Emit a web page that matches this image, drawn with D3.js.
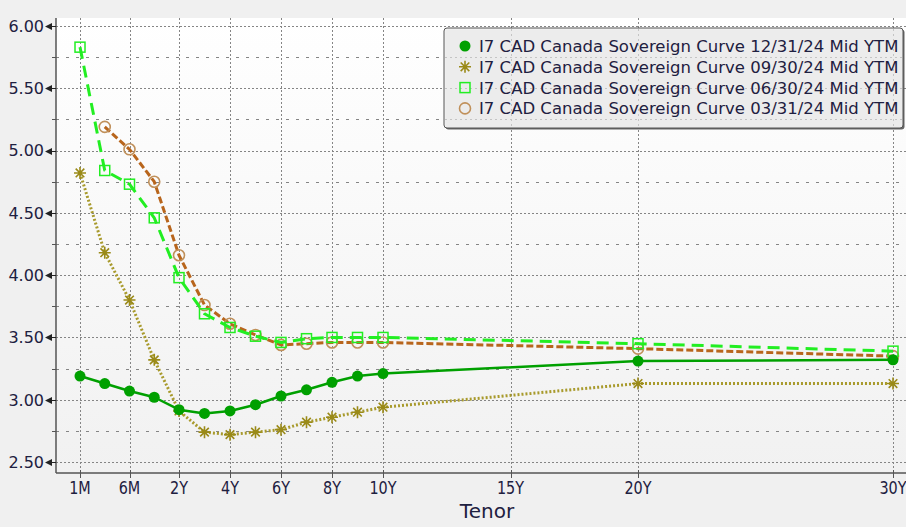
<!DOCTYPE html>
<html>
<head>
<meta charset="utf-8">
<script src="https://cdn.jsdelivr.net/npm/d3@7"></script>
<style>
  html, body { margin: 0; padding: 0; background: #f0f0f0; }
  svg { display: block; }
  text { font-family: "DejaVu Sans", sans-serif; fill: #1e2040; }
</style>
</head>
<body>
<div id="chart"></div>
<script>
let width = 906;
let height = 527;

// Tenors of the curve points, and where they sit in years
let tenors = ["1M", "3M", "6M", "1Y", "2Y", "3Y", "4Y", "5Y", "6Y", "7Y", "8Y", "9Y", "10Y", "20Y", "30Y"];
let tenorYears = [1/12, 0.25, 0.5, 1, 2, 3, 4, 5, 6, 7, 8, 9, 10, 20, 30];

// Axis tick labels
let xTickLabels = ["1M", "6M", "2Y", "4Y", "6Y", "8Y", "10Y", "15Y", "20Y", "30Y"];
let xTickYears = [1/12, 0.5, 2, 4, 6, 8, 10, 15, 20, 30];
let yMajorTicks = [2.5, 3.0, 3.5, 4.0, 4.5, 5.0, 5.5, 6.0];
let yMinorTicks = [2.75, 3.25, 3.75, 4.25, 4.75, 5.25, 5.75];

// Yields (Mid YTM)
let ytm123124 = [3.19, 3.13, 3.07, 3.02, 2.92, 2.89, 2.91, 2.96, 3.03, 3.08, 3.14, 3.19, 3.21, 3.31, 3.32];
let ytm093024 = [4.82, 4.18, 3.80, 3.32, 2.91, 2.74, 2.72, 2.74, 2.76, 2.82, 2.86, 2.90, 2.94, 3.13, 3.13];
let ytm063024 = [5.83, 4.84, 4.73, 4.46, 3.98, 3.69, 3.58, 3.51, 3.46, 3.49, 3.50, 3.50, 3.50, 3.45, 3.39];
let ytm033124 = [null, 5.19, 5.01, 4.75, 4.16, 3.76, 3.61, 3.52, 3.44, 3.45, 3.46, 3.46, 3.46, 3.41, 3.35];

let seriesNames = [
    "I7 CAD Canada Sovereign Curve 12/31/24 Mid YTM",
    "I7 CAD Canada Sovereign Curve 09/30/24 Mid YTM",
    "I7 CAD Canada Sovereign Curve 06/30/24 Mid YTM",
    "I7 CAD Canada Sovereign Curve 03/31/24 Mid YTM"
];

let series = [
    {name: seriesNames[0], values: ytm123124, line: "#00a000", dash: null, lw: 2.5, marker: "dot", mcolor: "#00a000"},
    {name: seriesNames[1], values: ytm093024, line: "#a89a2c", dash: "2,2", lw: 3, marker: "star", mcolor: "#9a8a18"},
    {name: seriesNames[2], values: ytm063024, line: "#22ee22", dash: "12,7", lw: 3, marker: "square", mcolor: "#22ee22"},
    {name: seriesNames[3], values: ytm033124, line: "#b8651c", dash: "7,3", lw: 3, marker: "ring", mcolor: "#c0905a"}
];

let plot = {left: 56, right: 906, top: 18, bottom: 473};

// Short end gets equal slots, 2Y and longer is linear in years
let xScale = d3.scaleLinear()
    .domain([1/12, 0.25, 0.5, 1, 2, 30])
    .range([80, 104.75, 129.5, 154.25, 179, 893]);

let yScale = d3.scaleLinear()
    .domain([2.412, 6.064])
    .range([plot.bottom, plot.top]);

let svg = d3.select("#chart")
    .append("svg")
    .attr("width", width)
    .attr("height", height);

let defs = svg.append("defs");
let grad = defs.append("linearGradient")
    .attr("id", "bg")
    .attr("x1", 0).attr("y1", 0).attr("x2", 0).attr("y2", 1);
grad.append("stop").attr("offset", "0%").attr("stop-color", "#ffffff");
grad.append("stop").attr("offset", "100%").attr("stop-color", "#f1f1f1");

svg.append("rect")
    .attr("x", plot.left)
    .attr("y", plot.top)
    .attr("width", plot.right - plot.left)
    .attr("height", plot.bottom - plot.top)
    .attr("fill", "url(#bg)");

// Grid
let grid = svg.append("g").attr("stroke", "#858585").attr("stroke-width", 1);

grid.selectAll(".hmajor")
    .data(yMajorTicks)
    .enter().append("line")
    .attr("x1", plot.left).attr("x2", plot.right)
    .attr("y1", d => Math.round(yScale(d)) + 0.5)
    .attr("y2", d => Math.round(yScale(d)) + 0.5)
    .attr("stroke-dasharray", "2,2");

grid.selectAll(".hminor")
    .data(yMinorTicks)
    .enter().append("line")
    .attr("x1", plot.left).attr("x2", plot.right)
    .attr("y1", d => Math.round(yScale(d)) + 0.5)
    .attr("y2", d => Math.round(yScale(d)) + 0.5)
    .attr("stroke-dasharray", "3,7");

grid.selectAll(".vline")
    .data(xTickYears)
    .enter().append("line")
    .attr("y1", plot.top).attr("y2", plot.bottom)
    .attr("x1", d => Math.round(xScale(d)) + 0.5)
    .attr("x2", d => Math.round(xScale(d)) + 0.5)
    .attr("stroke-dasharray", "2,2");

// Axes
let axisColor = "#555555";

svg.append("line")
    .attr("x1", plot.left).attr("x2", plot.left)
    .attr("y1", plot.top).attr("y2", plot.bottom)
    .attr("stroke", axisColor).attr("stroke-width", 1.5);

svg.append("line")
    .attr("x1", plot.left).attr("x2", plot.right)
    .attr("y1", plot.bottom).attr("y2", plot.bottom)
    .attr("stroke", axisColor).attr("stroke-width", 1.5);

// y ticks: little arrows pointing at the labels
let yTicks = svg.append("g");
yTicks.selectAll(".arrow")
    .data(yMajorTicks)
    .enter().append("path")
    .attr("transform", d => "translate(" + plot.left + "," + (Math.round(yScale(d)) + 0.5) + ")")
    .attr("d", "M-11,0L-4,-3.5L-4,3.5Z M-4,-0.5L0,-0.5L0,0.5L-4,0.5Z")
    .attr("fill", "#222222");

yTicks.selectAll(".minor")
    .data(yMinorTicks)
    .enter().append("line")
    .attr("x1", plot.left - 4).attr("x2", plot.left)
    .attr("y1", d => Math.round(yScale(d)) + 0.5)
    .attr("y2", d => Math.round(yScale(d)) + 0.5)
    .attr("stroke", axisColor);

yTicks.selectAll(".label")
    .data(yMajorTicks)
    .enter().append("text")
    .attr("x", 44)
    .attr("y", d => yScale(d))
    .attr("dy", "0.36em")
    .attr("text-anchor", "end")
    .style("font-size", "16px")
    .text(d => d3.format(".2f")(d));

// x ticks
let xTicks = svg.append("g");
xTicks.selectAll("line")
    .data(xTickYears)
    .enter().append("line")
    .attr("x1", d => Math.round(xScale(d)) + 0.5)
    .attr("x2", d => Math.round(xScale(d)) + 0.5)
    .attr("y1", plot.bottom - 3).attr("y2", plot.bottom + 5)
    .attr("stroke", axisColor);

xTicks.selectAll("text")
    .data(xTickYears)
    .enter().append("text")
    .attr("transform", d => "translate(" + xScale(d) + "," + 494 + ") scale(0.8,1)")
    .attr("text-anchor", "middle")
    .style("font-size", "18px")
    .text((d, i) => xTickLabels[i]);

svg.append("text")
    .attr("x", 487)
    .attr("y", 518)
    .attr("text-anchor", "middle")
    .style("font-size", "20px")
    .text("Tenor");

// Markers
function drawMarker(g, type, color) {
    if (type === "dot") {
        g.append("circle").attr("r", 5.5).attr("fill", color);
    } else if (type === "ring") {
        g.append("circle").attr("r", 5.5).attr("fill", "none")
            .attr("stroke", color).attr("stroke-width", 1.6);
    } else if (type === "square") {
        g.append("rect").attr("x", -5).attr("y", -5).attr("width", 10).attr("height", 10)
            .attr("fill", "none").attr("stroke", color).attr("stroke-width", 1.5);
    } else if (type === "star") {
        g.append("path")
            .attr("d", "M-6,0L6,0M0,-6L0,6M-4.3,-4.3L4.3,4.3M-4.3,4.3L4.3,-4.3")
            .attr("stroke", color).attr("stroke-width", 1.6).attr("fill", "none");
    }
}

let line = d3.line()
    .defined(d => d.v !== null)
    .x(d => xScale(d.t))
    .y(d => yScale(d.v));

let drawOrder = series.slice().reverse();

drawOrder.forEach(function(s) {
    let pts = s.values.map((v, i) => ({t: tenorYears[i], v: v}));
    svg.append("path")
        .datum(pts)
        .attr("d", line)
        .attr("fill", "none")
        .attr("stroke", s.line)
        .attr("stroke-width", s.lw)
        .attr("stroke-dasharray", s.dash)
        .attr("stroke-linejoin", "round");

    svg.append("g").selectAll("g")
        .data(pts.filter(d => d.v !== null))
        .enter().append("g")
        .attr("transform", d => "translate(" + xScale(d.t) + "," + yScale(d.v) + ")")
        .each(function() { drawMarker(d3.select(this), s.marker, s.mcolor); });
});

// Legend
let legend = svg.append("g").attr("transform", "translate(444,28)");
legend.append("rect")
    .attr("x", 1.5).attr("y", 1.5)
    .attr("width", 459).attr("height", 100)
    .attr("rx", 3)
    .attr("fill", "#666666");
legend.append("rect")
    .attr("x", 0).attr("y", 0)
    .attr("width", 459).attr("height", 100)
    .attr("rx", 3)
    .attr("fill", "#f1f1f1")
    .attr("fill-opacity", 0.97)
    .attr("stroke", "#555555")
    .attr("stroke-width", 1);

// faint grid showing through legend
legend.selectAll(".lg")
    .data(yMajorTicks.concat(yMinorTicks).filter(d => yScale(d) > 28 && yScale(d) < 128))
    .enter().append("line")
    .attr("x1", 1).attr("x2", 458)
    .attr("y1", d => Math.round(yScale(d)) + 0.5 - 28)
    .attr("y2", d => Math.round(yScale(d)) + 0.5 - 28)
    .attr("stroke", "#c4c4c4")
    .attr("stroke-dasharray", "2,3");
legend.selectAll(".lv")
    .data(xTickYears.filter(d => xScale(d) > 445 && xScale(d) < 902))
    .enter().append("line")
    .attr("y1", 1).attr("y2", 99)
    .attr("x1", d => Math.round(xScale(d)) + 0.5 - 444)
    .attr("x2", d => Math.round(xScale(d)) + 0.5 - 444)
    .attr("stroke", "#c4c4c4")
    .attr("stroke-dasharray", "2,3");

let items = legend.selectAll(".item")
    .data(series)
    .enter().append("g")
    .attr("transform", (d, i) => "translate(0," + (18 + i * 20.8) + ")");

items.append("g")
    .attr("transform", "translate(21,0)")
    .each(function(d) { drawMarker(d3.select(this), d.marker, d.mcolor); });

items.append("text")
    .attr("x", 35)
    .attr("dy", "0.36em")
    .style("font-size", "16.5px")
    .text(d => d.name);
</script>
</body>
</html>
